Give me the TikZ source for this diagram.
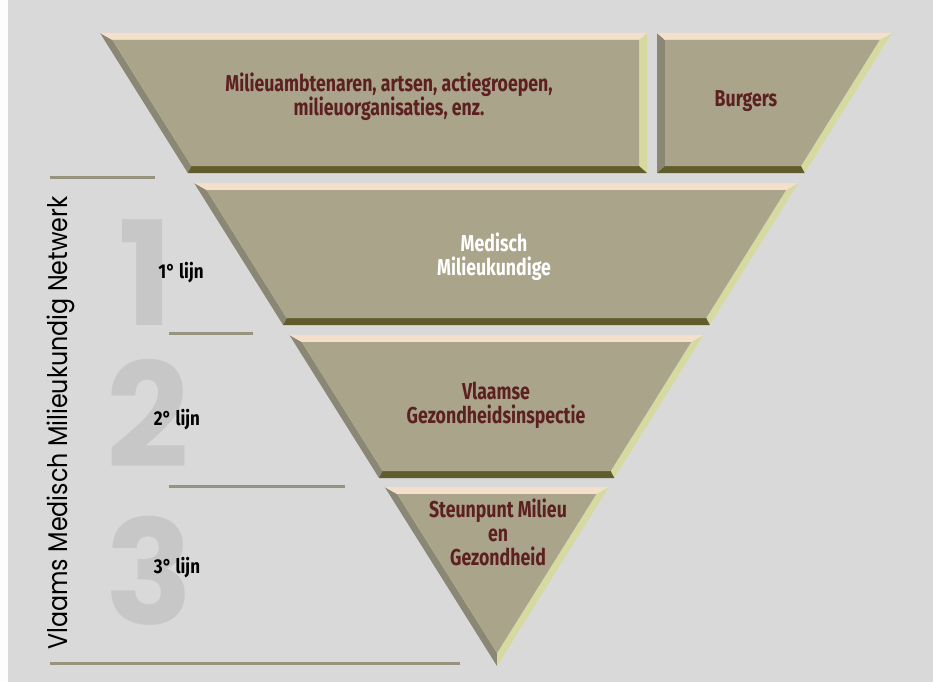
\documentclass[tikz,border=0pt]{standalone}
\usepackage{fontspec}
\setmainfont{Fira Sans}
\newfontfamily\condfont{Fira Sans}[FakeStretch=0.77]
\newfontfamily\labelfont{Fira Sans}[FakeStretch=0.85]
\newfontfamily\roundfont{Poppins}
\newfontfamily\titlefont{Poppins}[FakeStretch=0.88]
\usepackage{tikz}

\definecolor{bggray}{RGB}{217,217,217}
\definecolor{facetan}{RGB}{170,164,139}
\definecolor{peach}{RGB}{244,223,202}
\definecolor{olivedark}{RGB}{96,92,44}
\definecolor{sidegray}{RGB}{138,136,117}
\definecolor{sidelime}{RGB}{214,217,160}
\definecolor{rulegray}{RGB}{150,148,126}
\definecolor{maroon}{RGB}{92,32,32}
\definecolor{digitgray}{RGB}{199,199,199}

\tikzset{
	boxtext/.style={align=center, font=\condfont\bfseries\fontsize{23}{24}\selectfont, text=maroon},
	linelabel/.style={font=\labelfont\bfseries\fontsize{20}{20}\selectfont, text=black},
	bigdigit/.style={font=\roundfont\bfseries\fontsize{145}{145}\selectfont, text=digitgray},
	separator/.style={rulegray, line width=3pt}
}

% top y, bottom y, left x at top, left x at bottom, right x at top, right x at bottom
\newcommand{\bevelband}[6]{%
	\pgfmathsetmacro{\kl}{(#4-#3)/(#2-#1)}
	\pgfmathsetmacro{\kr}{(#6-#5)/(#2-#1)}
	\pgfmathsetmacro{\ya}{#1+7}
	\pgfmathsetmacro{\yb}{#2-7}
	\pgfmathsetmacro{\xa}{#3+7*\kl+8}
	\pgfmathsetmacro{\xb}{#4-7*\kl+8}
	\pgfmathsetmacro{\xc}{#5+7*\kr-8}
	\pgfmathsetmacro{\xd}{#6-7*\kr-8}
	\fill[sidegray] (#3,#1) -- (#4,#2) -- (\xb,\yb) -- (\xa,\ya) -- cycle;
	\fill[sidelime] (#5,#1) -- (#6,#2) -- (\xd,\yb) -- (\xc,\ya) -- cycle;
	\fill[peach] (#3,#1) -- (#5,#1) -- (\xc,\ya) -- (\xa,\ya) -- cycle;
	\fill[olivedark] (#4,#2) -- (#6,#2) -- (\xd,\yb) -- (\xb,\yb) -- cycle;
	\fill[facetan] (\xa,\ya) -- (\xc,\ya) -- (\xd,\yb) -- (\xb,\yb) -- cycle;
}

\begin{document}
\begin{tikzpicture}[x=1pt, y=-1pt]
	\fill[bggray] (0,0) rectangle (933,682);
	\fill[white!94!bggray] (0,0) rectangle (8,682);
	\useasboundingbox (0,0) rectangle (933,682);

	\bevelband{33}{173}{100}{187.8}{647}{647}
	\bevelband{33}{173}{657}{657}{892}{804.6}
	\bevelband{183}{325}{194.1}{283.1}{798.4}{709.8}
	\bevelband{335}{478}{289.4}{379}{703.5}{614.3}

	\fill[sidegray] (384.7,487) -- (497,666) -- (497,653) -- (397.1,494) -- cycle;
	\fill[sidelime] (608.7,487) -- (497,666) -- (497,653) -- (596.3,494) -- cycle;
	\fill[peach] (384.7,487) -- (608.7,487) -- (596.3,494) -- (397.1,494) -- cycle;
	\fill[facetan] (397.1,494) -- (596.3,494) -- (497,653) -- cycle;

	\draw[separator] (50,177) -- (155,177);
	\draw[separator] (169,333) -- (253,333);
	\draw[separator] (169,486) -- (345,486);
	\draw[separator] (50,663) -- (460,663);

	\node[bigdigit] (one) at (146,273) {1};
	\node[bigdigit] (two) at (148,413) {2};
	\node[bigdigit] (three) at (149,571) {3};

	\node[linelabel] (first) at (181,273) {1° lijn};
	\node[linelabel] (second) at (177,420) {2° lijn};
	\node[linelabel] (third) at (177,568) {3° lijn};

	\node[rotate=90, font=\titlefont\fontsize{27}{27}\selectfont] (network) at (61,423) {Vlaams Medisch Milieukundig Netwerk};

	\node[boxtext] (actors) at (389,97) {Milieuambtenaren, artsen, actiegroepen,\\milieuorganisaties, enz.};
	\node[boxtext] (citizens) at (746,101) {Burgers};
	\node[boxtext, text=white] (medical) at (494,257) {Medisch\\Milieukundige};
	\node[boxtext] (inspection) at (496,405) {Vlaamse\\Gezondheidsinspectie};
	\node[boxtext] (support) at (498,532) {Steunpunt Milieu\\en\\Gezondheid};
\end{tikzpicture}
\end{document}
